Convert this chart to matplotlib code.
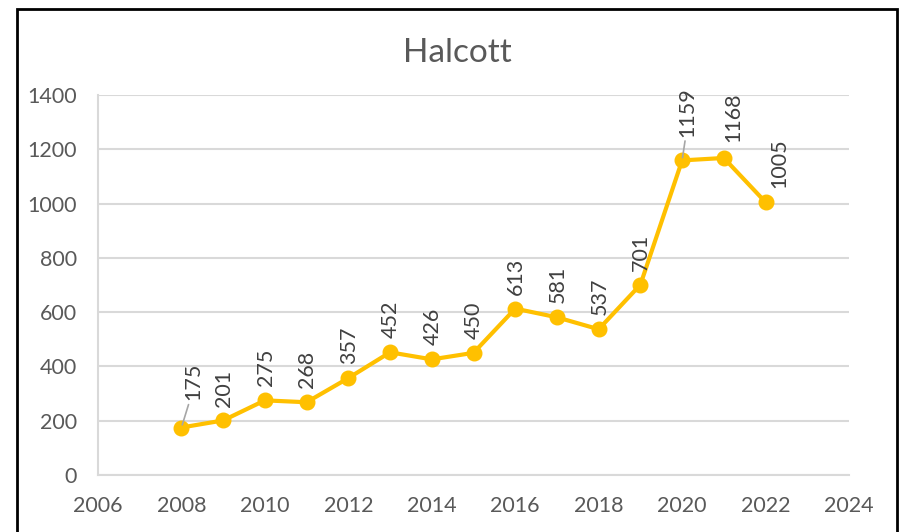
import matplotlib.pyplot as plt
from matplotlib.patches import Rectangle

years = [2008, 2009, 2010, 2011, 2012, 2013, 2014, 2015,
         2016, 2017, 2018, 2019, 2020, 2021, 2022]
counts = [175, 201, 275, 268, 357, 452, 426, 450,
          613, 581, 537, 701, 1159, 1168, 1005]
title = "Halcott"

gold = "#FFC000"
txt = "#595959"
plt.rcParams['font.family'] = ['Lato', 'DejaVu Sans']

fig = plt.figure(figsize=(9.02, 5.32), dpi=100)
ax = fig.add_axes([98 / 902, 57 / 532, (849 - 98) / 902, (475 - 95) / 532])

ax.plot(years, counts, color=gold, lw=3, marker='o', ms=10.5, zorder=3)

# label offsets in points (dx, dy); a few labels sit off the point with a leader line
offsets = {2008: (8.5, 19.5), 2020: (3.5, 17), 2021: (6.5, 11.5), 2022: (10, 10)}
for x, y in zip(years, counts):
    dx, dy = offsets.get(x, (0.5, 10))
    ax.annotate(str(y), (x, y), xytext=(dx, dy), textcoords='offset points',
                rotation=90, ha='center', va='bottom', fontsize=15.5, color="#404040")
    if x in (2008, 2020):
        ax.annotate("", (x, y), xytext=(dx * 0.6, dy - 3), textcoords='offset points',
                    arrowprops=dict(arrowstyle='-', color='#A6A6A6', lw=1.2,
                                    shrinkA=0, shrinkB=2))

ax.set_xlim(2006, 2024)
ax.set_ylim(0, 1400)
ax.set_xticks(range(2006, 2025, 2))
ax.set_yticks(range(0, 1401, 200))
ax.grid(axis='y', color='#D9D9D9', lw=1.5)
ax.set_axisbelow(True)
for s in ('top', 'right'):
    ax.spines[s].set_visible(False)
for s in ('left', 'bottom'):
    ax.spines[s].set_color('#D9D9D9')
    ax.spines[s].set_linewidth(1.5)
ax.tick_params(length=0, labelsize=15.5, labelcolor=txt, pad=15)

fig.text(0.5067, 1 - 53 / 532, title, ha='center', va='center', fontsize=24, color=txt)

fig.patches.append(Rectangle((16.5 / 902, -0.02), (897 - 16.5) / 902, 1.02 - 9 / 532,
                             transform=fig.transFigure, fill=False, ec='black', lw=2))

fig.savefig("out.png", dpi=100)
